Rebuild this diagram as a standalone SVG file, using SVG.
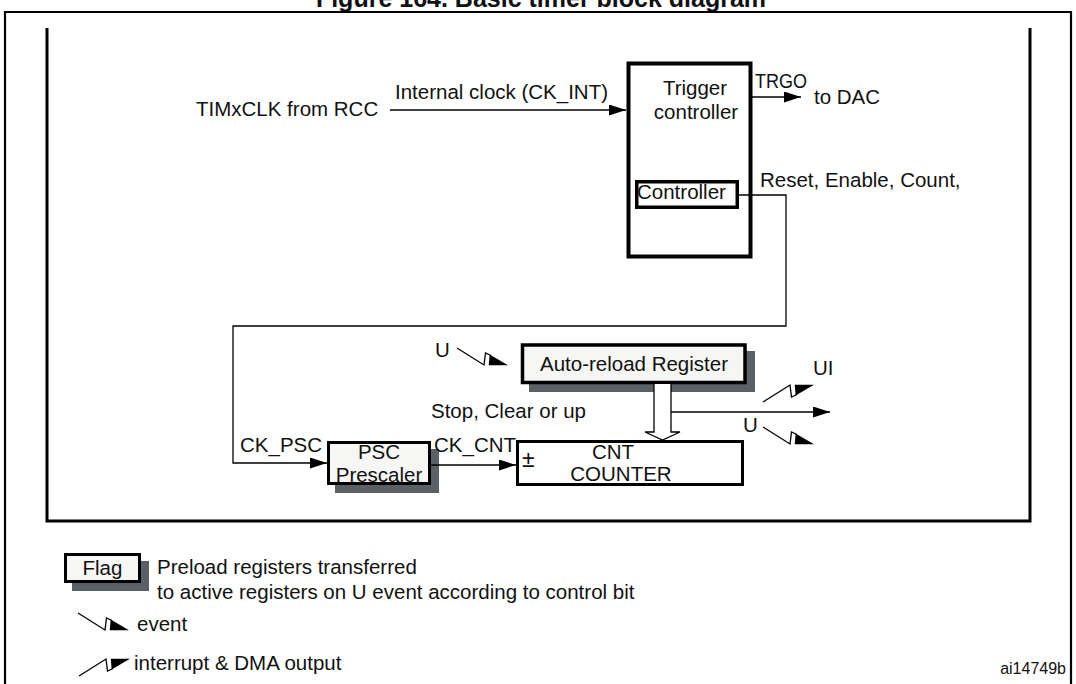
<svg xmlns="http://www.w3.org/2000/svg" width="1076" height="684" viewBox="0 0 1076 684">
<style>
text{font-family:"Liberation Sans",Arial,sans-serif;font-size:20.5px;fill:#111}
.title{font-weight:bold;font-size:25px;text-anchor:middle}
.small{font-size:16px}
.mid{text-anchor:middle}
.thin{fill:none;stroke:#000;stroke-width:1.3}
.box{fill:#fff;stroke:#000;stroke-width:3.5}
.reg{fill:#f6f6f4;stroke:#000;stroke-width:3.5}
.shadow{fill:#5a6064}
.frame{fill:none;stroke:#000}
</style>
<defs>
<marker id="arr" markerWidth="17" markerHeight="11" refX="17" refY="5.5" orient="auto" markerUnits="userSpaceOnUse"><path d="M0,0 L17,5.5 L0,11 Z" fill="#000"/></marker>
<g id="evt"><path d="M0,0 L27,17 L28.5,5 L34,7.5" fill="none" stroke="#000" stroke-width="1.3"/><path d="M32.7,6.6 L51,17.3 L31.7,17.3 Z" fill="#000"/></g>
</defs>

<text class="title" x="541" y="7">Figure 164. Basic timer block diagram</text>
<path class="frame" stroke-width="2.2" d="M5,684 V12 H1071 V684"/>
<path class="frame" stroke-width="3" d="M47,28 V521 H1030 V28"/>

<g id="clock-input">
<text x="196" y="116">TIMxCLK from RCC</text>
<text x="395" y="99">Internal clock (CK_INT)</text>
</g>

<g id="trigger-controller">
<rect class="box" x="628.5" y="63.5" width="122" height="193" style="stroke-width:4"/>
<text class="mid" x="695" y="95">Trigger</text>
<text class="mid" x="696" y="119">controller</text>
<g id="controller">
<rect class="box" x="636.75" y="181.75" width="100.5" height="25.5"/>
<text x="637" y="199">Controller</text>
</g>
</g>

<g id="trgo-out">
<text x="755" y="88" textLength="52" lengthAdjust="spacingAndGlyphs">TRGO</text>
<text x="814" y="104">to DAC</text>
</g>
<text x="760" y="187">Reset, Enable, Count,</text>

<g id="auto-reload">
<rect class="shadow" x="529" y="351" width="226" height="41"/>
<rect class="reg" x="522.5" y="345" width="222.5" height="37.5"/>
<text class="mid" x="634" y="371">Auto-reload Register</text>
</g>
<text x="435" y="357">U</text>
<use href="#evt" x="457" y="348"/>

<g id="psc">
<rect class="shadow" x="335" y="449" width="104" height="44"/>
<rect class="reg" x="328.5" y="442.5" width="101" height="41" style="stroke-width:3"/>
<text class="mid" x="379" y="459">PSC</text>
<text class="mid" x="379" y="482">Prescaler</text>
</g>
<text x="240" y="452">CK_PSC</text>
<text x="434" y="452">CK_CNT</text>

<g id="cnt">
<rect class="box" x="517.5" y="441.5" width="225" height="43" style="stroke-width:3"/>
<text x="522" y="467" style="font-size:23px">±</text>
<text class="mid" x="613" y="459">CNT</text>
<text class="mid" x="621" y="481">COUNTER</text>
</g>
<text x="431" y="418">Stop, Clear or up</text>

<g id="outputs">
<text x="813" y="375">UI</text>
<text x="743" y="432">U</text>
<use href="#evt" transform="translate(763,402) scale(1,-1)"/>
<use href="#evt" x="763" y="427"/>
</g>

<g id="connectors">
<path class="thin" d="M390,110 H626" marker-end="url(#arr)"/>
<path class="thin" d="M752,97 H801" marker-end="url(#arr)"/>
<path class="thin" d="M739,195 H786 V326 H233 V463 H327" marker-end="url(#arr)"/>
<path class="thin" d="M431,465 H516" marker-end="url(#arr)"/>
<path class="thin" d="M671,412 H830" marker-end="url(#arr)"/>
<path d="M654,384 V432 H645 L662.5,440 L680,432 H671 V384" fill="#fff" stroke="#000" stroke-width="1.3"/>
</g>

<g id="legend">
<rect class="shadow" x="72" y="561" width="77" height="30"/>
<rect class="reg" x="65.5" y="554.5" width="74" height="27" style="stroke-width:3"/>
<text class="mid" x="102.5" y="575">Flag</text>
<text x="157" y="574">Preload registers transferred</text>
<text x="157" y="599">to active registers on U event according to control bit</text>
<use href="#evt" x="78" y="613"/>
<text x="137" y="631">event</text>
<use href="#evt" transform="translate(79,676) scale(1,-1)"/>
<text x="134" y="670">interrupt &amp; DMA output</text>
<text class="small" x="1066" y="674" style="text-anchor:end">ai14749b</text>
</g>
</svg>
